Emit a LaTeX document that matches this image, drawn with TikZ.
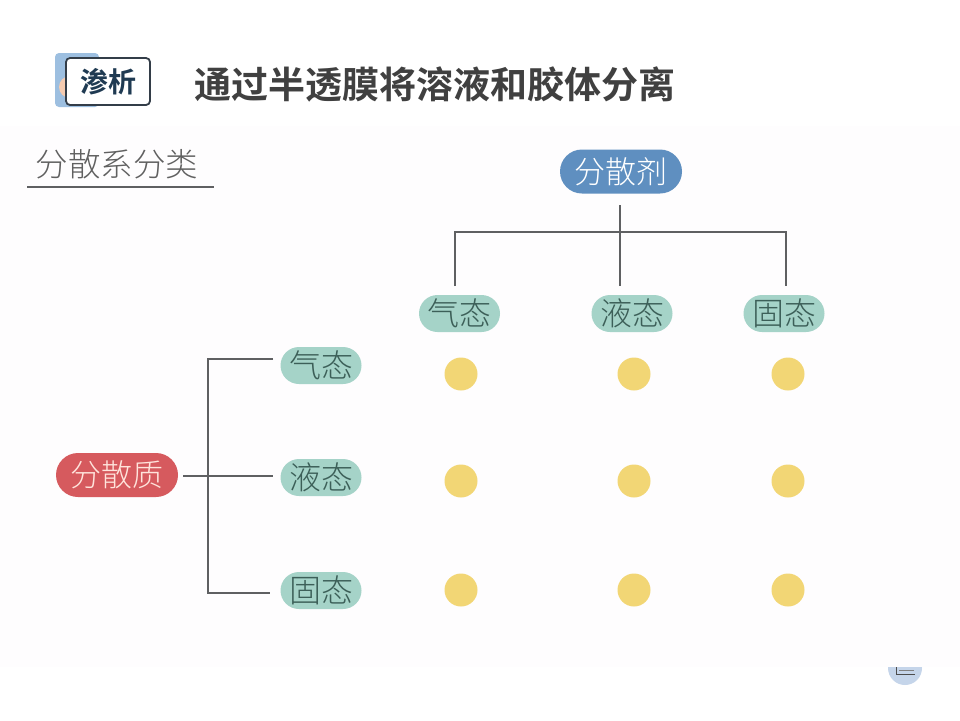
\documentclass[tikz,border=0pt]{standalone}
\usepackage{fontspec}
\usetikzlibrary{shapes.misc}
\setmainfont{Noto Sans CJK SC}
\newfontfamily\cjkreg{Noto Sans CJK SC Light}
\newfontfamily\cjkbold{Noto Sans CJK SC Bold}
\definecolor{panel}{HTML}{FEFDFE}
\definecolor{lineg}{HTML}{5F6062}
\definecolor{tealp}{HTML}{A5D3C8}
\definecolor{tealt}{HTML}{3C5F58}
\definecolor{bluep}{HTML}{5F8FC0}
\definecolor{redp}{HTML}{D65A5E}
\definecolor{dotc}{HTML}{F2D675}
\tikzset{
  pill/.style={rounded rectangle, inner sep=0pt, font=\cjkreg\fontsize{31}{33}\selectfont},
  bigpill/.style={pill, minimum width=122pt, minimum height=44pt},
  smallpill/.style={pill, fill=tealp, text=tealt, minimum width=81pt, minimum height=37pt, font=\cjkreg\fontsize{32}{34}\selectfont},
  dotn/.style={circle, fill=dotc, minimum size=33pt, inner sep=0pt},
  conn/.style={draw=lineg, line width=2pt},
}
\begin{document}
\begin{tikzpicture}[x=1pt,y=-1pt]
\useasboundingbox (0,0) rectangle (960,720);
\fill[white] (0,0) rectangle (960,720);
% corner disc under the panel
\fill[fill={rgb,255:red,197;green,213;blue,234}] (905,668) circle (17);
\fill[panel] (0,126) rectangle (960,667);
\draw[black!70, line width=0.8pt] (896,667) -- (896,674) -- (915,674);
\draw[black!50, line width=0.8pt] (899,670.5) -- (914,670.5);
% badge
\fill[rounded corners=4pt, fill={rgb,255:red,157;green,191;blue,224}] (55,53) rectangle (99,107);
\fill[fill={rgb,255:red,245;green,203;blue,176}] (70,87) circle (11);
\node[draw={rgb,255:red,51;green,61;blue,72}, line width=1.8pt, fill=white, rounded corners=4pt, minimum width=84pt, minimum height=47pt, inner sep=0pt, text={rgb,255:red,31;green,58;blue,82}, font=\cjkbold\fontsize{28}{30}\selectfont] (badge) at (108,81.5) {渗析};
\node[anchor=center, text={rgb,255:red,64;green,64;blue,64}, inner sep=0pt, font=\cjkbold\fontsize{37}{39}\selectfont] (title) at (434.5,84) {通过半透膜将溶液和胶体分离};
% section heading
\node[text={rgb,255:red,96;green,96;blue,96}, inner sep=0pt, font=\cjkreg\fontsize{32.5}{34}\selectfont] (head) at (117,164) {分散系分类};
\coordinate (hl) at (27,187);
\coordinate (hr) at (214,187);
\draw[draw=lineg, line width=2pt] (hl) -- (hr);
% pills
\node[bigpill, fill=bluep, text=white] (agent) at (621,171.5) {分散剂};
\node[bigpill, fill=redp, text={rgb,255:red,255;green,228;blue,220}] (solute) at (117,475) {分散质};
\node[smallpill] (t1) at (459.5,313.5) {气态};
\node[smallpill] (t2) at (632,313.5) {液态};
\node[smallpill] (t3) at (784,313.5) {固态};
\node[smallpill] (l1) at (321,365.5) {气态};
\node[smallpill] (l2) at (321,477.5) {液态};
\node[smallpill] (l3) at (321,590.5) {固态};
% dots
\foreach \n/\x in {a/461,b/634,c/788}{
  \node[dotn] (d\n1) at (\x,374) {};
  \node[dotn] (d\n2) at (\x,481) {};
  \node[dotn] (d\n3) at (\x,590) {};
}
% connector end points
\coordinate (top0) at (620,205);
\coordinate (topj) at (620,232);
\coordinate (top1) at (455,286);
\coordinate (top2) at (620,286);
\coordinate (top3) at (786,286);
\coordinate (left0) at (183,476);
\coordinate (leftv1) at (208,359);
\coordinate (leftv3) at (208,593);
\coordinate (left1) at (273,359);
\coordinate (left2) at (273,476);
\coordinate (left3) at (270,593);
\draw[conn] (top0) -- (top2);
\draw[conn] (top1) -- (top1 |- topj) -- (top3 |- topj) -- (top3);
\draw[conn] (left0) -- (left2);
\draw[conn] (left1) -- (leftv1) -- (leftv3) -- (left3);
\end{tikzpicture}
\end{document}
